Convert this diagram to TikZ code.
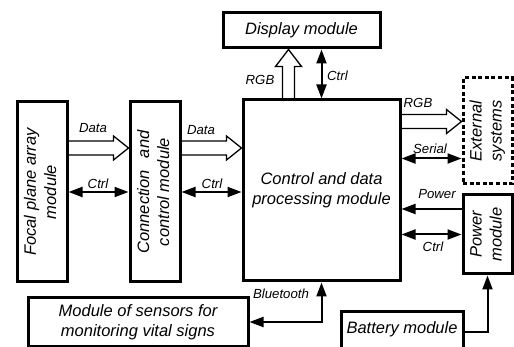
\documentclass[tikz,border=0pt]{standalone}
\usepackage{fontspec}
\usepackage{graphicx}
\setmainfont{Liberation Sans}
\usetikzlibrary{arrows.meta,calc}
\newcommand{\mainfnt}{\fontsize{16.5}{20}\selectfont\itshape}
\newcommand{\lblfnt}{\fontsize{13.2}{15}\selectfont\itshape}
\newcommand{\rottext}[1]{\rotatebox{90}{\begin{tabular}{@{}c@{}}#1\end{tabular}}}
% hollow arrow pointing right: #1 start, #2 tip
\newcommand{\hollowR}[2]{%
  \draw[hollow] ($(#1)+(0,-7)$) -- ($(#2)+(-15,-7)$) -- ($(#2)+(-15,-12)$) -- (#2)
     -- ($(#2)+(-15,12)$) -- ($(#2)+(-15,7)$) -- ($(#1)+(0,7)$);}
% hollow arrow pointing up: #1 start, #2 tip
\newcommand{\hollowU}[2]{%
  \draw[hollow] ($(#1)+(-6,0)$) -- ($(#2)+(-6,17)$) -- ($(#2)+(-13,17)$) -- (#2)
     -- ($(#2)+(13,17)$) -- ($(#2)+(6,17)$) -- ($(#1)+(6,0)$);}
\begin{document}
\begin{tikzpicture}[x=1pt,y=-1pt,
  box/.style={draw, line width=3pt, inner sep=0pt, align=center, font=\mainfnt},
  dashbox/.style={box, dash pattern=on 4pt off 2.6pt},
  lbl/.style={font=\lblfnt, inner sep=0pt},
  hollow/.style={line width=1.3pt, line join=miter},
  conn/.style={line width=2pt, >={Triangle[length=14pt,width=10pt]}}
]
\useasboundingbox (0,0) rectangle (514,347);
\clip (0,0) rectangle (514,347);

% boxes
\node[box, minimum width=50pt, minimum height=180pt] (focal) at (42,192)
  {\rottext{Focal plane array\\module}};
\node[box, minimum width=50pt, minimum height=180pt] (cconn) at (155,192)
  {\rottext{Connection\hspace{0.45em} and\\control module}};
\node[box, minimum width=157pt, minimum height=181pt] (ctrl) at (321.5,190.5)
  {Control and data\\processing module};
\node[box, minimum width=157pt, minimum height=35pt] (display) at (301.5,30.5)
  {Display module};
\node[dashbox, minimum width=49pt, minimum height=106pt] (ext) at (487.5,131)
  {\rottext{External\\systems}};
\node[box, minimum width=49pt, minimum height=79pt] (power) at (487.5,234.5)
  {\rottext{Power\\module}};
\node[box, minimum width=220pt, minimum height=48pt] (sensors) at (138,322)
  {Module of sensors for\\monitoring vital signs};
\node[draw, line width=3pt, font=\mainfnt, minimum width=122pt, inner xsep=0pt,
      inner ysep=0pt, text height=22pt, text depth=24pt] (battery) at (402,335)
  {Battery module};

% hollow data arrows
\coordinate (d1a) at ($(focal.east)+(0,-44)$);
\coordinate (d1b) at (d1a -| cconn.west);
\hollowR{d1a}{d1b}
\coordinate (d2a) at ($(cconn.east)+(0,-44)$);
\coordinate (d2b) at (d2a -| ctrl.west);
\hollowR{d2a}{d2b}
\coordinate (r1a) at ($(ctrl.north east)+(0,23)$);
\coordinate (r1b) at (r1a -| ext.west);
\hollowR{r1a}{r1b}
\coordinate (u1a) at ($(ctrl.north west)+(47,0)$);
\coordinate (u1b) at (u1a |- display.south);
\hollowU{u1a}{u1b}

% control connectors
\draw[conn,<->] (focal.east) -- (cconn.west);
\draw[conn,<->] (cconn.east) -- (cconn.east -| ctrl.west);
\draw[conn,<->] (ctrl.north) -- (ctrl.north |- display.south);
\coordinate (s1a) at ($(ctrl.north east)+(0,60)$);
\draw[conn,<->] (s1a) -- (s1a -| ext.west);
\coordinate (p1a) at ($(power.west)+(0,-25.5)$);
\draw[conn,->] (p1a) -- (p1a -| ctrl.east);
\draw[conn,<->] (power.west) -- (power.west -| ctrl.east);
\draw[conn,->] ($(battery.east)+(0,-3)$) -| (power.south);
\draw[conn,<->] (sensors.east) -| (ctrl.south);

% labels
\node[lbl] (lData1) at (93,128) {Data};
\node[lbl] (lCtrl1) at (98,184) {Ctrl};
\node[lbl] (lData2) at (201,130) {Data};
\node[lbl] (lCtrl2) at (212,184) {Ctrl};
\node[lbl] (lRGBu) at (260,80) {RGB};
\node[lbl, anchor=west] (lCtrlu) at (327,76) {Ctrl};
\node[lbl] (lRGBr) at (418,103) {RGB};
\node[lbl] (lSerial) at (430,149) {Serial};
\node[lbl] (lPower) at (437,194) {Power};
\node[lbl] (lCtrlp) at (433,247) {Ctrl};
\node[lbl] (lBt) at (281,294) {Bluetooth};
\end{tikzpicture}
\end{document}
